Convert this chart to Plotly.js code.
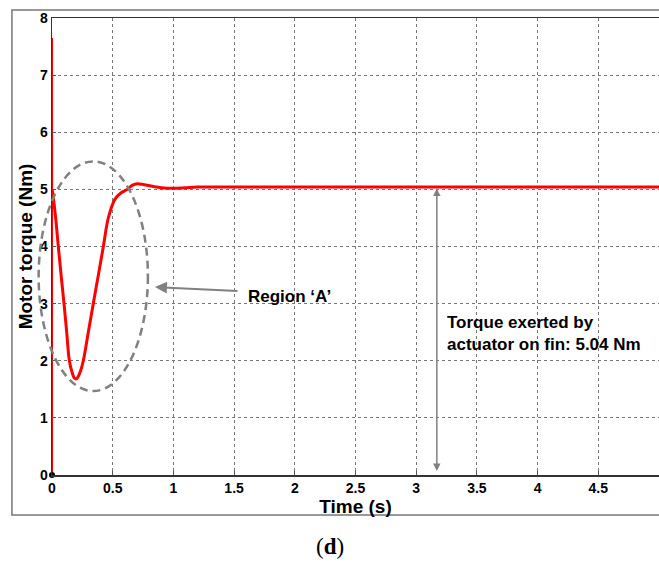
<!DOCTYPE html>
<html>
<head>
<meta charset="utf-8">
<script src="https://cdn.plot.ly/plotly-3.0.1.min.js"></script>
<style>html,body{margin:0;padding:0;background:#fff;}#chart{width:659px;height:563px;}</style>
</head>
<body>
<div id="chart"></div>
<script>
// Data
const timeS = [0, 0, 0.001, 0.005, 0.03, 0.052, 0.075, 0.099, 0.121, 0.143, 0.165, 0.183, 0.198, 0.215, 0.235, 0.258, 0.299, 0.34, 0.382, 0.423, 0.464, 0.519, 0.57, 0.62, 0.66, 0.703, 0.76, 0.835, 0.90, 1.0, 1.1, 1.2, 1.3, 2.0, 3.0, 4.0, 5.0];
const torqueNm = [0, 7.65, 5.0, 4.95, 4.5, 4.0, 3.5, 3.0, 2.5, 2.0, 1.8, 1.7, 1.68, 1.72, 1.82, 2.0, 2.5, 3.0, 3.5, 4.0, 4.5, 4.83, 4.94, 5.0, 5.07, 5.1, 5.08, 5.05, 5.03, 5.02, 5.03, 5.04, 5.04, 5.04, 5.04, 5.04, 5.04];
const xTicks = [0, 0.5, 1, 1.5, 2, 2.5, 3, 3.5, 4, 4.5, 5];
const yTicks = [0, 1, 2, 3, 4, 5, 6, 7, 8];
const steadyTorque = 5.04;
const xRange = [0, 5];
const yRange = [0, 8];

// Region 'A' ellipse in data units (converted to paper so it is not clipped)
const regionA = {t0: -0.11, t1: 0.79, y0: 1.47, y1: 5.49};
const px = t => (t - xRange[0]) / (xRange[1] - xRange[0]);
const py = v => (v - yRange[0]) / (yRange[1] - yRange[0]);

const bold = {family: 'Liberation Sans, Arial, sans-serif', color: '#000', weight: 'bold'};
const spikeEnd = 3; // first points form the initial spike at t = 0

const traces = [
  {x: timeS.slice(0, spikeEnd), y: torqueNm.slice(0, spikeEnd), type: 'scatter', mode: 'lines',
   line: {color: '#ff0000', width: 2}, hoverinfo: 'skip'},
  {x: timeS.slice(spikeEnd - 1), y: torqueNm.slice(spikeEnd - 1), type: 'scatter', mode: 'lines',
   line: {color: '#ff0000', width: 3, shape: 'spline', smoothing: 1}, hoverinfo: 'skip'},
  {x: [0], y: [0], type: 'scatter', mode: 'markers',
   marker: {color: '#000', size: 6}, cliponaxis: false, hoverinfo: 'skip'}
];

const layout = {
  width: 659, height: 563,
  margin: {l: 52, r: 0, t: 18, b: 88},
  paper_bgcolor: '#fff', plot_bgcolor: '#fff',
  showlegend: false,
  xaxis: {
    range: xRange, tickvals: xTicks, ticktext: xTicks.map(String),
    showgrid: true, gridcolor: '#777', griddash: 'dot', gridwidth: 1,
    zeroline: false, showline: true, linecolor: '#333', linewidth: 1.5, mirror: true,
    ticks: 'inside', ticklen: 4, tickcolor: '#555',
    tickfont: Object.assign({size: 14}, bold),
    title: {text: 'Time (s)', font: Object.assign({size: 19}, bold), standoff: 4}
  },
  yaxis: {
    range: yRange, tickvals: yTicks, ticktext: yTicks.map(String),
    showgrid: true, gridcolor: '#777', griddash: 'dot', gridwidth: 1,
    zeroline: false, showline: true, linecolor: '#333', linewidth: 1.5, mirror: true,
    ticks: 'inside', ticklen: 4, tickcolor: '#555',
    tickfont: Object.assign({size: 14}, bold),
    title: {text: 'Motor torque (Nm)', font: Object.assign({size: 19}, bold), standoff: 2}
  },
  shapes: [
    {type: 'rect', xref: 'paper', yref: 'paper', x0: -0.066, x1: 1.2, y0: -0.0875, y1: 1.0175,
     line: {color: '#777', width: 1.5}, layer: 'below'},
    {type: 'circle', xref: 'paper', yref: 'paper',
     x0: px(regionA.t0), x1: px(regionA.t1), y0: py(regionA.y0), y1: py(regionA.y1),
     line: {color: '#808080', width: 2.5, dash: '8px,5px'}}
  ],
  annotations: [
    {x: 0.848, y: 3.29, ax: 1.54, ay: 3.22, xref: 'x', yref: 'y', axref: 'x', ayref: 'y',
     text: '', showarrow: true, arrowhead: 2, arrowsize: 1.2, arrowwidth: 2, arrowcolor: '#808080'},
    {x: 1.96, y: 3.13, xref: 'x', yref: 'y', text: 'Region \u2018A\u2019', showarrow: false,
     font: Object.assign({size: 17}, bold)},
    {x: 3.17, y: 0.07, ax: 3.17, ay: steadyTorque, xref: 'x', yref: 'y', axref: 'x', ayref: 'y',
     text: '', showarrow: true, arrowhead: 2, startarrowhead: 2, arrowside: 'end+start',
     arrowsize: 1, startarrowsize: 1, arrowwidth: 1.5, arrowcolor: '#808080'},
    {x: 3.24, y: 2.48, xref: 'x', yref: 'y', xanchor: 'left', align: 'left', showarrow: false,
     text: 'Torque exerted by<br>actuator on fin: ' + steadyTorque.toFixed(2) + ' Nm',
     font: Object.assign({size: 17}, bold)},
    {x: 0.458, y: -0.1575, xref: 'paper', yref: 'paper', xanchor: 'center', yanchor: 'middle', showarrow: false,
     text: '(<b>d</b>)', font: {family: 'Liberation Serif, Times New Roman, serif', size: 23, color: '#000'}}
  ]
};

Plotly.newPlot('chart', traces, layout, {displayModeBar: false, staticPlot: true});
</script>
</body>
</html>
